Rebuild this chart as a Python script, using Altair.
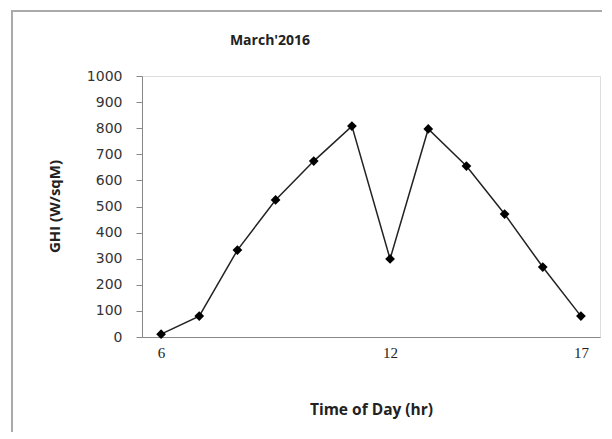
import altair as alt
import pandas as pd

hours = [6, 7, 8, 9, 10, 11, 12, 13, 14, 15, 16, 17]
ghi = [11, 80, 333, 525, 674, 808, 299, 797, 655, 471, 268, 80]
x_ticks = [6, 12, 17]
y_ticks = [0, 100, 200, 300, 400, 500, 600, 700, 800, 900, 1000]

df = pd.DataFrame({"hour": hours, "ghi": ghi})

x_axis = alt.Axis(
    values=x_ticks, grid=False, ticks=False, domainColor="#888888",
    labelFont="Liberation Serif", labelFontSize=15, labelColor="#222222",
    labelPadding=8, title="Time of Day (hr)", titleFont="Open Sans",
    titleFontSize=15.5, titleFontWeight="bold", titleColor="#222222",
    titleX=229, titleY=72, titleBaseline="middle", titleAlign="center",
)
y_axis = alt.Axis(
    values=y_ticks, format="d", grid=False, tickSize=6, tickColor="#888888",
    domainColor="#888888", labelFont="DejaVu Sans", labelFontSize=14,
    labelColor="#333333", labelPadding=14, title="GHI (W/sqM)",
    titleFont="Open Sans", titleFontSize=15, titleFontWeight="bold",
    titleColor="#222222", titleAngle=-90, titleX=-88, titleY=130,
    titleBaseline="middle", titleAlign="center",
)
x_enc = alt.X("hour:Q", scale=alt.Scale(domain=[5.5, 17.5], nice=False, zero=False), axis=x_axis)
y_enc = alt.Y("ghi:Q", scale=alt.Scale(domain=[0, 1000], nice=False), axis=y_axis)

base = alt.Chart(df)
line = base.mark_line(color="#222222", strokeWidth=1.5).encode(x=x_enc, y=y_enc)
pts = base.mark_point(shape="diamond", filled=True, color="#000000", size=95, opacity=1).encode(x=x_enc, y=y_enc)

frame_left = alt.Chart(df).mark_rule(color="#aaaaaa", strokeWidth=2).encode(
    x=alt.value(-130), y=alt.value(-65), y2=alt.value(400)
)
frame_top = alt.Chart(df).mark_rule(color="#aaaaaa", strokeWidth=2).encode(
    x=alt.value(-131), x2=alt.value(500), y=alt.value(-65)
)

chart = alt.layer(line, pts, frame_left, frame_top).properties(
    width=458,
    height=261,
    autosize=alt.AutoSizeParams(type="none"),
    padding={"left": 134, "top": 68, "right": 2, "bottom": 95},
    title=alt.TitleParams(
        "March'2016", font="Open Sans", fontSize=14, fontWeight="bold",
        color="#222222", anchor="middle", dx=-101, offset=-38,
    ),
).configure_view(stroke=None).configure(background="white")

chart.save("out.html", embed_options={"renderer": "svg", "actions": False})
